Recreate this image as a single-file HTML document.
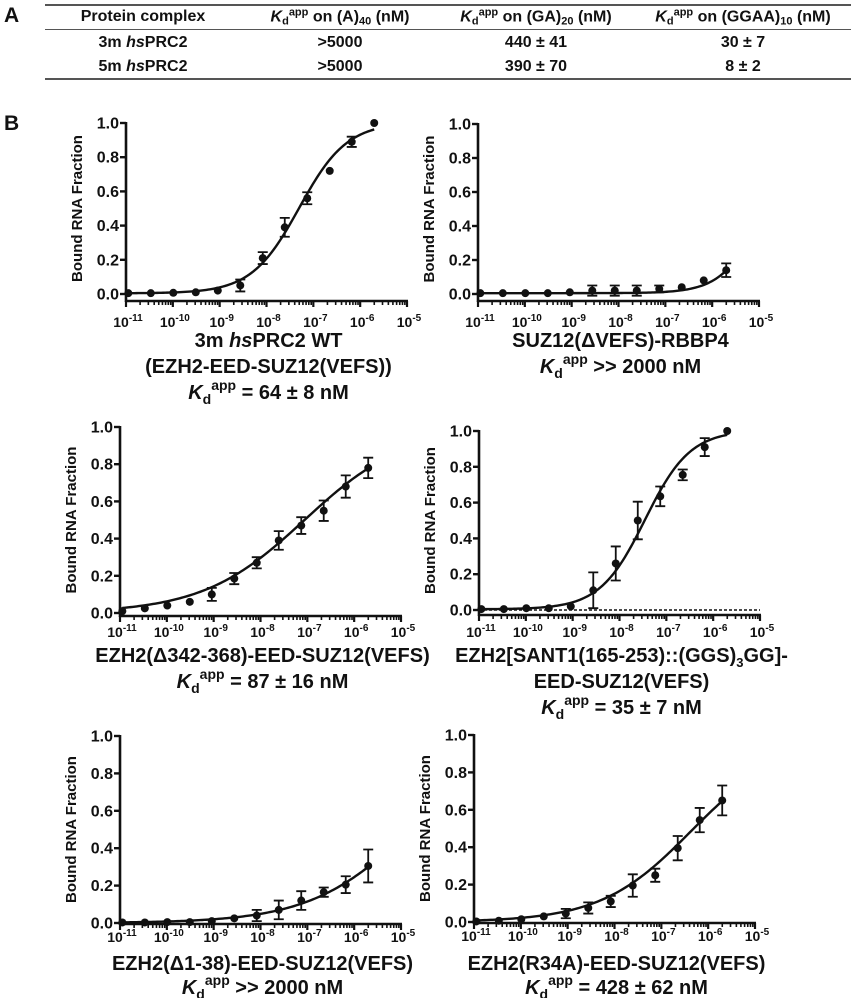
<!DOCTYPE html>
<html><head><meta charset="utf-8">
<style>
body{margin:0;background:#fff;}
#wrap{position:relative;width:852px;height:998px;overflow:hidden;font-family:"Liberation Sans",Arial,sans-serif;font-weight:bold;color:#111;}
.lbl{position:absolute;font-size:21px;font-weight:bold;}
.rule{position:absolute;left:45px;width:806px;background:#555;}
.cell{position:absolute;font-size:16px;transform:translate(-50%,-50%);white-space:nowrap;}
sub,sup{font-size:11px;}
sup{vertical-align:6px;} sub{vertical-align:-3px;}
svg{position:absolute;left:0;top:0;}
</style></head><body>
<div id="wrap">
<div class="lbl" style="left:4px;top:4px">A</div>
<div class="lbl" style="left:4px;top:112px">B</div>
<div>
<div class="rule" style="top:4px;height:2px"></div>
<div class="rule" style="top:29px;height:1px"></div>
<div class="rule" style="top:78px;height:2px"></div>
<div class="cell" style="left:143px;top:17px">Protein complex</div>
<div class="cell" style="left:340px;top:17px"><i>K</i><sub>d</sub><sup>app</sup> on (A)<sub>40</sub> (nM)</div>
<div class="cell" style="left:536px;top:17px"><i>K</i><sub>d</sub><sup>app</sup> on (GA)<sub>20</sub> (nM)</div>
<div class="cell" style="left:743px;top:17px"><i>K</i><sub>d</sub><sup>app</sup> on (GGAA)<sub>10</sub> (nM)</div>
<div class="cell" style="left:143px;top:43px">3m <i>hs</i>PRC2</div>
<div class="cell" style="left:340px;top:43px">&gt;5000</div>
<div class="cell" style="left:536px;top:43px">440 ± 41</div>
<div class="cell" style="left:743px;top:43px">30 ± 7</div>
<div class="cell" style="left:143px;top:67px">5m <i>hs</i>PRC2</div>
<div class="cell" style="left:340px;top:67px">&gt;5000</div>
<div class="cell" style="left:536px;top:67px">390 ± 70</div>
<div class="cell" style="left:743px;top:67px">8 ± 2</div>
</div>
<svg id="chart" width="852" height="998"></svg>
</div>
<script>
// log10 concentrations (M), shared by all panels
const logConc = [-10.95,-10.47,-9.99,-9.51,-9.04,-8.56,-8.08,-7.61,-7.13,-6.65,-6.18,-5.70];
const yTicks = [0.0,0.2,0.4,0.6,0.8,1.0];
const xTickExps = [-11,-10,-9,-8,-7,-6,-5];
// panel values
const p1Vals = [0.005,0.005,0.007,0.01,0.02,0.05,0.21,0.39,0.56,0.72,0.89,1.0];
const p1Errs = [0,0,0,0,0,0.035,0.035,0.055,0.035,0,0.03,0];
const p2Vals = [0.005,0.005,0.005,0.005,0.01,0.02,0.02,0.02,0.03,0.04,0.08,0.14];
const p2Errs = [0,0,0,0,0,0.03,0.03,0.03,0.02,0,0,0.04];
const p3Vals = [0.01,0.025,0.04,0.06,0.10,0.185,0.27,0.39,0.47,0.55,0.68,0.78];
const p3Errs = [0,0,0,0,0.035,0.03,0.03,0.05,0.045,0.055,0.06,0.055];
const p4Vals = [0.005,0.005,0.01,0.01,0.02,0.11,0.26,0.50,0.635,0.755,0.91,1.0];
const p4Errs = [0,0,0,0,0,0.1,0.095,0.105,0.055,0.03,0.05,0];
const p5Vals = [0.003,0.003,0.005,0.005,0.01,0.025,0.04,0.07,0.12,0.165,0.205,0.305];
const p5Errs = [0,0,0,0,0,0,0.03,0.05,0.05,0.025,0.045,0.088];
const p6Vals = [0.003,0.007,0.015,0.03,0.045,0.075,0.11,0.195,0.25,0.395,0.545,0.65];
const p6Errs = [0,0,0,0,0.025,0.03,0.03,0.06,0.035,0.065,0.065,0.08];
// fit parameters: [Kd (M), hill, Bmax, baseline]
const p1Fit = [5e-8,0.85,1.0,0.004];
const p2Fit = [1.3e-5,1.0,1.0,0.005];
const p3Fit = [8.7e-8,0.4,1.0,0.0];
const p4Fit = [3.5e-8,0.9,1.0,0.004];
const p5Fit = [1.66e-5,0.4,1.0,0.0];
const p6Fit = [4.28e-7,0.45,0.97,0.0];

const NS='http://www.w3.org/2000/svg';
const svg=document.getElementById('chart');
function mk(tag,attrs,parent){const e=document.createElementNS(NS,tag);for(const k in attrs)e.setAttribute(k,attrs[k]);(parent||svg).appendChild(e);return e;}

const panels=[
 {id:'p1',x0:126,x1:407,y0:294,y1:123,ax:301,lo:20,vals:p1Vals,errs:p1Errs,fit:p1Fit,dotted:false,
  title:[['t','3m '],['i','hs'],['t','PRC2 WT']],lines:['(EZH2-EED-SUZ12(VEFS))'],kd:' = 64 ± 8 nM',ty:[340,366,392]},
 {id:'p2',x0:478,x1:759,y0:294,y1:124,ax:301,lo:20,vals:p2Vals,errs:p2Errs,fit:p2Fit,dotted:false,
  title:[['t','SUZ12(ΔVEFS)-RBBP4']],lines:[],kd:' >> 2000 nM',ty:[340,366]},
 {id:'p3',x0:120,x1:401,y0:613,y1:427,ax:616,lo:15,vals:p3Vals,errs:p3Errs,fit:p3Fit,dotted:false,
  title:[['t','EZH2(Δ342-368)-EED-SUZ12(VEFS)']],lines:[],kd:' = 87 ± 16 nM',ty:[655,681]},
 {id:'p4',x0:479,x1:760,y0:610,y1:431,ax:615,lo:16,vals:p4Vals,errs:p4Errs,fit:p4Fit,dotted:true,
  title:[['t','EZH2[SANT1(165-253)::(GGS)'],['s','3'],['u','GG]-']],lines:['EED-SUZ12(VEFS)'],kd:' = 35 ± 7 nM',ty:[655,681,707]},
 {id:'p5',x0:120,x1:401,y0:923,y1:736,ax:924,lo:12,vals:p5Vals,errs:p5Errs,fit:p5Fit,dotted:false,
  title:[['t','EZH2(Δ1-38)-EED-SUZ12(VEFS)']],lines:[],kd:' >> 2000 nM',ty:[963,987]},
 {id:'p6',x0:474,x1:755,y0:922,y1:735,ax:923,lo:12,vals:p6Vals,errs:p6Errs,fit:p6Fit,dotted:false,
  title:[['t','EZH2(R34A)-EED-SUZ12(VEFS)']],lines:[],kd:' = 428 ± 62 nM',ty:[963,987]}
];

function hill(c,f){const r=Math.pow(c/f[0],f[1]);return f[3]+f[2]*r/(1+r);}
const FF='Liberation Sans, Arial, sans-serif';

panels.forEach(p=>{
 const g=mk('g',{});
 
 
 const xs=v=>p.x0+(v+11)/6*(p.x1-p.x0);
 const ys=v=>p.y0-v*(p.y0-p.y1);
 const ya=mk('line',{x1:p.x0,y1:p.y1-1,x2:p.x0,y2:p.ax+1,stroke:'#111','stroke-width':2.6},g);
 
 
 yTicks.forEach(t=>{
  mk('line',{x1:p.x0-6,y1:ys(t),x2:p.x0,y2:ys(t),stroke:'#111','stroke-width':2.4},g);
  const tx=mk('text',{x:p.x0-7,y:ys(t)+5.5,'text-anchor':'end','font-size':16,'font-weight':'bold','font-family':FF,fill:'#111'},g);
  tx.textContent=t.toFixed(1);
  
  
 });
 const yt=mk('text',{transform:`translate(${p.x0-44},${(p.y0+p.y1)/2}) rotate(-90)`,'text-anchor':'middle','font-size':15,'font-weight':'bold','font-family':FF,fill:'#111'},g);
 yt.textContent='Bound RNA Fraction';
 
 
 const xa=mk('line',{x1:p.x0-1,y1:p.ax,x2:p.x1+1,y2:p.ax,stroke:'#111','stroke-width':2.6},g);
 
 
 xTickExps.forEach(e=>{
  mk('line',{x1:xs(e),y1:p.ax,x2:xs(e),y2:p.ax+6,stroke:'#111','stroke-width':2.2},g);
  if(e<-5){for(let k=2;k<10;k++){const xv=xs(e+Math.log10(k));mk('line',{x1:xv,y1:p.ax,x2:xv,y2:p.ax+4,stroke:'#111','stroke-width':1.6},g);}}
  const tx=mk('text',{x:xs(e)+2,y:p.ax+p.lo+6,'text-anchor':'middle','font-size':14,'font-weight':'bold','font-family':FF,fill:'#111'},g);
  
  
  const a=mk('tspan',{},tx);a.textContent='10';
  const b=mk('tspan',{dy:-6,'font-size':10},tx);b.textContent=String(e);
 });
 if(p.dotted){
  const dl=mk('line',{x1:p.x0,y1:p.y0,x2:p.x1,y2:p.y0,stroke:'#111','stroke-width':1.6,'stroke-dasharray':'3,2'},g);
  
  
 }
 let d='';
 const lmin=logConc[0],lmax=logConc[logConc.length-1];
 for(let i=0;i<=120;i++){const l=lmin+(lmax-lmin)*i/120;const v=hill(Math.pow(10,l),p.fit);d+=(i?'L':'M')+xs(l).toFixed(2)+','+ys(v).toFixed(2);}
 const cv=mk('path',{d:d,fill:'none',stroke:'#111','stroke-width':2.4},g);
 
 
 logConc.forEach((l,i)=>{
  const cx=xs(l),cy=ys(p.vals[i]),er=p.errs[i];
  if(er>0){
   const eb=mk('path',{d:`M${cx},${ys(p.vals[i]+er)}L${cx},${ys(p.vals[i]-er)}M${cx-5},${ys(p.vals[i]+er)}L${cx+5},${ys(p.vals[i]+er)}M${cx-5},${ys(p.vals[i]-er)}L${cx+5},${ys(p.vals[i]-er)}`,stroke:'#111','stroke-width':1.8,fill:'none'},g);
   
   
  }
  const c=mk('circle',{cx:cx,cy:cy,r:4,fill:'#111'},g);
  
  
 });
 const cxT=(p.x0+p.x1)/2+2;
 const font={'text-anchor':'middle','font-size':20,'font-weight':'bold','font-family':FF,fill:'#111'};
 const t1=mk('text',Object.assign({x:cxT,y:p.ty[0]+7},font),g);
 
 
 p.title.forEach(([k,s])=>{
  let ts;
  if(k==='i')ts=mk('tspan',{'font-style':'italic'},t1);
  else if(k==='s')ts=mk('tspan',{dy:5,'font-size':13},t1);
  else if(k==='u')ts=mk('tspan',{dy:-5},t1);
  else ts=mk('tspan',{},t1);
  ts.textContent=s;
 });
 let li=1;
 p.lines.forEach(s=>{
  const t=mk('text',Object.assign({x:cxT,y:p.ty[li]+7},font),g);t.textContent=s;
  
  
  li++;
 });
 const tk=mk('text',Object.assign({x:cxT,y:p.ty[li]+7},font),g);
 
 
 const a=mk('tspan',{'font-style':'italic'},tk);a.textContent='K';
 const b=mk('tspan',{dy:5,'font-size':14},tk);b.textContent='d';
 const c=mk('tspan',{dy:-14,'font-size':14},tk);c.textContent='app';
 const e=mk('tspan',{dy:9},tk);e.textContent=p.kd;
});
</script>
</body></html>
